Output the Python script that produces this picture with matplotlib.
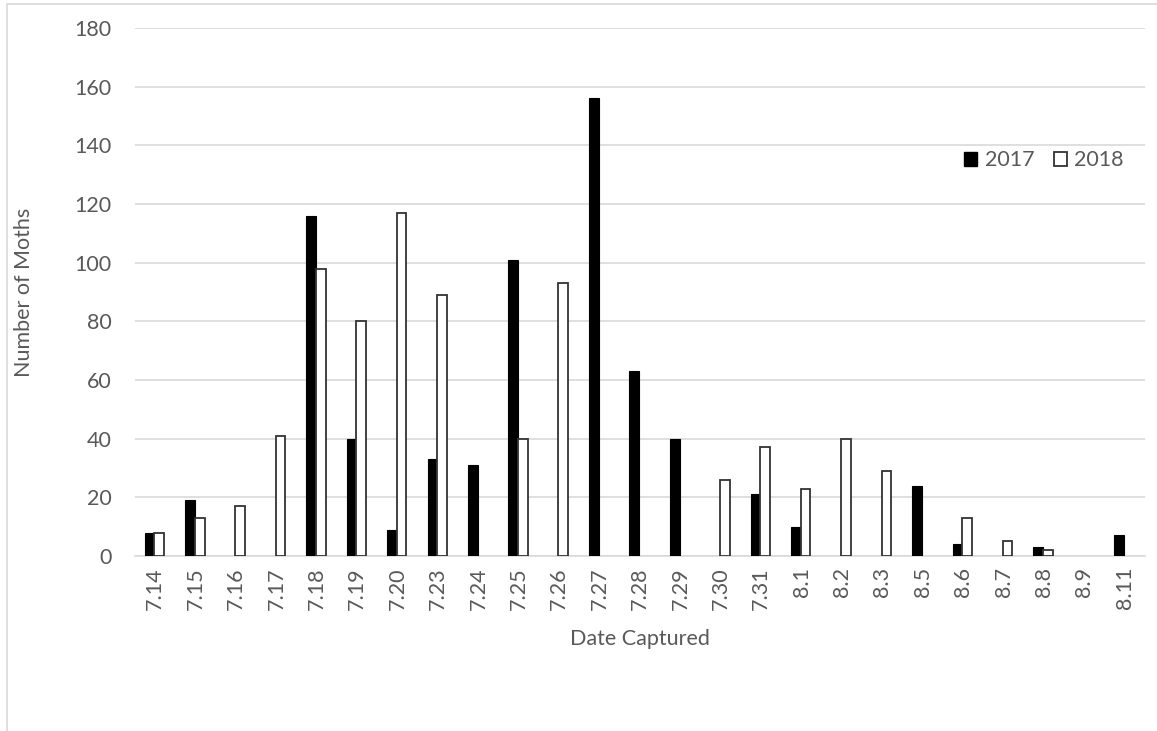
import numpy as np
import matplotlib
matplotlib.use("Agg")
import matplotlib.pyplot as plt
from matplotlib.patches import Rectangle, Patch

plt.rcParams['font.family'] = ['Lato', 'DejaVu Sans']

datas = ["7.14", "7.15", "7.16", "7.17", "7.18", "7.19", "7.20", "7.23", "7.24",
         "7.25", "7.26", "7.27", "7.28", "7.29", "7.30", "7.31", "8.1", "8.2",
         "8.3", "8.5", "8.6", "8.7", "8.8", "8.9", "8.11"]
moths_2017 = [8, 19, 0, 0, 116, 40, 9, 33, 31, 101, 0, 156, 63, 40, 0, 21, 10, 0,
              0, 24, 4, 0, 3, 0, 7]
moths_2018 = [8, 13, 17, 41, 98, 80, 117, 89, 0, 40, 93, 0, 0, 0, 26, 37, 23, 40,
              29, 0, 13, 5, 2, 0, 0]

cinza = "#595959"
fs = 15.5

fig = plt.figure(figsize=(11.57, 7.31), dpi=100)
ax = fig.add_axes([0.1167, 0.2394, 0.8729, 0.7223])

x = np.arange(len(datas))
w = 0.24
v17 = np.array(moths_2017)
v18 = np.array(moths_2018)
# zeros não são desenhados (senão fica só a borda no eixo)
m17 = v17 > 0
m18 = v18 > 0
ax.bar(x[m17] - w / 2 - 0.02, v17[m17], width=w, color="black", edgecolor="black",
       linewidth=0.8, label="2017", zorder=3)
ax.bar(x[m18] + w / 2 - 0.02, v18[m18], width=w, color="white", edgecolor="#333333",
       linewidth=1.3, label="2018", zorder=3)

ax.set_xlim(-0.5, len(datas) - 0.5)
ax.set_ylim(0, 180)
ax.set_yticks(range(0, 181, 20))
ax.yaxis.grid(True, color="#d9d9d9", linewidth=1.2, zorder=0)
ax.set_axisbelow(True)
for lado in ["top", "right", "left"]:
    ax.spines[lado].set_visible(False)
ax.spines["bottom"].set_color("#d9d9d9")
ax.spines["bottom"].set_linewidth(1.2)

ax.set_xticks(x)
ax.set_xticklabels(datas, rotation=90)
ax.tick_params(axis="both", length=0, labelsize=fs, labelcolor=cinza)
ax.tick_params(axis="y", pad=17)
ax.tick_params(axis="x", pad=8)

ax.set_ylabel("Number of Moths", fontsize=fs, color=cinza, labelpad=29)
ax.set_xlabel("Date Captured", fontsize=fs, color=cinza, labelpad=14)

handles = [Patch(facecolor="black", edgecolor="black"),
           Patch(facecolor="white", edgecolor="#333333", linewidth=1.3)]
ax.legend(handles, ["2017", "2018"], loc="upper right", bbox_to_anchor=(0.998, 0.805),
          ncol=2, frameon=False, fontsize=fs, labelcolor=cinza,
          handlelength=0.6, handleheight=0.6, handletextpad=0.35, columnspacing=0.9)

# moldura da área do gráfico
fig.patches.append(Rectangle((0.006, -0.1), 1.1, 1.095, transform=fig.transFigure,
                             fill=False, edgecolor="#d9d9d9", linewidth=1.2))

fig.savefig("out.png", dpi=100)
